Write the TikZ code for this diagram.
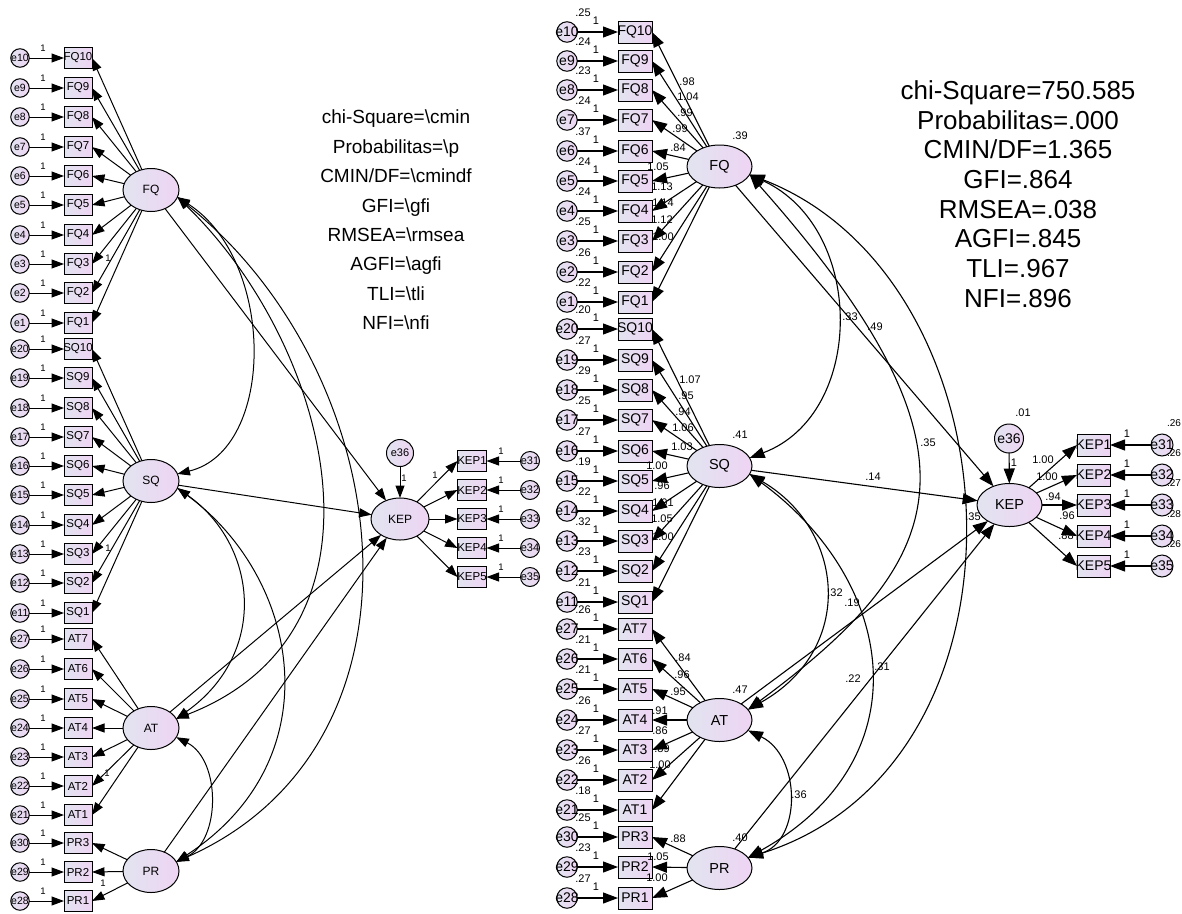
\documentclass[tikz,border=0pt]{standalone}
\usepackage{fontspec}
\setmainfont{Liberation Sans}
\usetikzlibrary{arrows.meta,shapes.geometric}
\definecolor{fillL}{RGB}{226,228,240}
\definecolor{fillR}{RGB}{238,212,243}
\newcommand\fsz[1]{\fontsize{#1}{#1}\selectfont}
\begin{document}
\begin{tikzpicture}[x=1pt,y=-1pt,
  every node/.style={inner sep=0pt,outer sep=0pt},
  zerotext/.style={execute at begin node={\hbox to 0pt\bgroup\hss},execute at end node={\hss\egroup}},
  shapefill/.style={zerotext,left color=fillL,right color=fillR,draw=black,line width=1pt},
  latL/.style={shapefill,ellipse,minimum width=56pt,minimum height=43pt,font=\fsz{12}},
  latR/.style={shapefill,ellipse,minimum width=65pt,minimum height=43pt,font=\fsz{14.5}},
  obsL/.style={shapefill,rectangle,minimum width=28pt,minimum height=21pt,font=\fsz{11.5}},
  obsR/.style={shapefill,rectangle,minimum width=34pt,minimum height=22pt,font=\fsz{14}},
  errL/.style={shapefill,circle,minimum size=18.5pt,font=\fsz{10.5}},
  errR/.style={shapefill,circle,minimum size=20.5pt,font=\fsz{14}},
  dL/.style={shapefill,circle,minimum size=27pt,font=\fsz{11}},
  dR/.style={shapefill,circle,minimum size=30pt,font=\fsz{14}},
  arrL/.style={line width=1pt,-{Triangle[length=12.5pt,width=9pt]}},
  covL/.style={line width=1pt,{Triangle[length=12.5pt,width=9pt]}-{Triangle[length=12.5pt,width=9pt]}},
  arrR/.style={line width=1.1pt,-{Triangle[length=15pt,width=11pt]}},
  covR/.style={line width=1.1pt,{Triangle[length=15pt,width=11pt]}-{Triangle[length=15pt,width=11pt]}},
  oneL/.style={font=\fsz{9.5}},
  numR/.style={font=\fsz{11}},
  fitL/.style={font=\fsz{19},anchor=base},
  fitR/.style={font=\fsz{26},anchor=base}]

\fill[white] (0,0) rectangle (1182,913);
\path[use as bounding box] (0,0) rectangle (1182,913);

% ---------------- model specification (left) ----------------
\node[latL] (lFQ) at (151,190) {FQ};
\node[latL] (lSQ) at (151,481) {SQ};
\node[latL] (lAT) at (151,728) {AT};
\node[latL] (lPR) at (151,871) {PR};
\node[latL,minimum width=58pt,minimum height=42pt] (lKEP) at (400,519) {KEP};
\node[dL] (le36) at (400,453) {e36};

\foreach \n/\y/\e in {FQ10/58/e10,FQ9/88/e9,FQ8/117/e8,FQ7/147/e7,FQ6/176/e6,FQ5/205/e5,FQ4/235/e4,FQ3/264/e3,FQ2/293/e2,FQ1/323/e1,
  SQ10/349/e20,SQ9/378/e19,SQ8/408/e18,SQ7/437/e17,SQ6/466/e16,SQ5/495/e15,SQ4/525/e14,SQ3/554/e13,SQ2/583/e12,SQ1/613/e11,
  AT7/639/e27,AT6/669/e26,AT5/699/e25,AT4/728/e24,AT3/757/e23,AT2/786/e22,AT1/815/e21,
  PR3/843/e30,PR2/872/e29,PR1/901/e28}{
  \node[obsL] (l\n) at (78,\y) {\n};
  \node[errL] (l\e) at (20,\y) {\e};
  \draw[arrL] (l\e) -- (l\n);
  \node[oneL] (lw\e) at (43,{\y-10}) {1};
}
\foreach \n in {FQ10,FQ9,FQ8,FQ7,FQ6,FQ5,FQ4,FQ3,FQ2,FQ1} \draw[arrL] (lFQ) -- (l\n.east);
\foreach \n in {SQ10,SQ9,SQ8,SQ7,SQ6,SQ5,SQ4,SQ3,SQ2,SQ1} \draw[arrL] (lSQ) -- (l\n.east);
\foreach \n in {AT7,AT6,AT5,AT4,AT3,AT2,AT1} \draw[arrL] (lAT) -- (l\n.east);
\foreach \n in {PR3,PR2,PR1} \draw[arrL] (lPR) -- (l\n.east);
\node[oneL] (lfFQ) at (108,258) {1};
\node[oneL] (lfSQ) at (108,548) {1};
\node[oneL] (lfAT) at (107,773) {1};
\node[oneL] (lfPR) at (103,883) {1};

\foreach \n/\y/\e in {KEP1/461/e31,KEP2/490/e32,KEP3/519/e33,KEP4/548/e34,KEP5/577/e35}{
  \node[obsL,minimum width=29pt] (l\n) at (472,\y) {\n};
  \node[errL,minimum size=19pt,font=\fsz{11}] (l\e) at (530,\y) {\e};
  \draw[arrL] (l\e) -- (l\n);
  \draw[arrL] (lKEP) -- (l\n.west);
  \node[oneL] (lw\e) at (501,{\y-10}) {1};
}
\node[oneL] (lfKEP) at (435,475) {1};
\draw[arrL] (le36) -- (lKEP);
\node[oneL] (lw36) at (404,478) {1};

\draw[arrL] (lFQ) -- (lKEP);
\draw[arrL] (lSQ) -- (lKEP);
\draw[arrL] (lAT) -- (lKEP);
\draw[arrL] (lPR) -- (lKEP);

\draw[covL] (lFQ.-15) .. controls (276,260) and (276,450) .. (lSQ.15);
\draw[covL] (lFQ.-15) .. controls (330,345) and (405,630) .. (lAT.20);
\draw[covL] (lFQ.-15) .. controls (400,375) and (442,744) .. (lPR.20);
\draw[covL] (lSQ.-15) .. controls (258,545) and (269,653) .. (lAT.20);
\draw[covL] (lSQ.-15) .. controls (300,578) and (334,759) .. (lPR.20);
\draw[covL] (lAT.-20) .. controls (221,760) and (221,840) .. (lPR.20);

\node[fitL] (lt1) at (396,123.8) {chi-Square=\textbackslash cmin};
\node[fitL] (lt2) at (396,153.2) {Probabilitas=\textbackslash p};
\node[fitL] (lt3) at (396,182.6) {CMIN/DF=\textbackslash cmindf};
\node[fitL] (lt4) at (396,212.0) {GFI=\textbackslash gfi};
\node[fitL] (lt5) at (396,241.4) {RMSEA=\textbackslash rmsea};
\node[fitL] (lt6) at (396,270.8) {AGFI=\textbackslash agfi};
\node[fitL] (lt7) at (396,300.2) {TLI=\textbackslash tli};
\node[fitL] (lt8) at (396,329.6) {NFI=\textbackslash nfi};

% ---------------- estimates (right) ----------------
\node[latR] (rFQ) at (719.5,166.5) {FQ};
\node[latR] (rSQ) at (719.5,466) {SQ};
\node[latR] (rAT) at (719.5,720) {AT};
\node[latR] (rPR) at (719.5,868) {PR};
\node[latR] (rKEP) at (1009.5,505) {KEP};
\node[dR,minimum size=29pt] (re36) at (1009,438.5) {e36};

\foreach \n/\y/\e/\v in {FQ10/32/e10/.25,FQ9/61/e9/.24,FQ8/90/e8/.23,FQ7/120/e7/.24,FQ6/151/e6/.37,FQ5/181/e5/.24,FQ4/211/e4/.24,FQ3/241/e3/.25,FQ2/272/e2/.26,FQ1/302/e1/.22,
  SQ10/329/e20/.20,SQ9/360/e19/.27,SQ8/390/e18/.29,SQ7/420/e17/.25,SQ6/451/e16/.27,SQ5/481/e15/.19,SQ4/511/e14/.22,SQ3/541/e13/.32,SQ2/571/e12/.23,SQ1/602/e11/.21,
  AT7/629/e27/.26,AT6/659/e26/.21,AT5/689/e25/.21,AT4/720/e24/.26,AT3/750/e23/.27,AT2/780/e22/.26,AT1/810/e21/.18,
  PR3/837/e30/.25,PR2/867/e29/.23,PR1/898/e28/.27}{
  \node[obsR] (r\n) at (635,\y) {\n};
  \node[errR] (r\e) at (567,\y) {\e};
  \draw[arrR] (r\e) -- (r\n);
  \node[numR] (rw\e) at (596,{\y-11}) {1};
  \node[numR] (rv\e) at (583,{\y-19}) {\v};
}
\foreach \n in {FQ10,FQ9,FQ8,FQ7,FQ6,FQ5,FQ4,FQ3,FQ2,FQ1} \draw[arrR] (rFQ) -- (r\n.east);
\foreach \n in {SQ10,SQ9,SQ8,SQ7,SQ6,SQ5,SQ4,SQ3,SQ2,SQ1} \draw[arrR] (rSQ) -- (r\n.east);
\foreach \n in {AT7,AT6,AT5,AT4,AT3,AT2,AT1} \draw[arrR] (rAT) -- (r\n.east);
\foreach \n in {PR3,PR2,PR1} \draw[arrR] (rPR) -- (r\n.east);

\foreach \x/\y/\t in {687/82/.98,688/97/1.04,685/113/.99,680/129/.99,678/148/.84,658/167/1.05,662/187/1.13,663/203/1.14,662/220/1.12,663/237/1.00,
  690/380/1.07,686/396/.95,683/412/.94,683/428/1.06,682/447/1.03,657/466/1.00,662/486/.96,663/503/1.01,662/519/1.05,663/537/1.00,
  683/658/.84,682/675/.96,678/692/.95,660/711/.91,660/731/.86,662/749/.89,660/765/1.00,
  678/839/.88,658/857/1.05,657/878/1.00,
  1043/460/1.00,1047/477/1.00,1053/497/.94,1067/516/.96,1066/536/.88}{
  \node[numR] (rl-\x-\y) at (\x,\y) {\t};
}

\foreach \n/\y/\e/\v in {KEP1/445/e31/.26,KEP2/475/e32/.26,KEP3/505/e33/.27,KEP4/536/e34/.28,KEP5/566/e35/.26}{
  \node[obsR,minimum width=33pt] (r\n) at (1093.5,\y) {\n};
  \node[errR,minimum size=22pt] (r\e) at (1162,\y) {\e};
  \draw[arrR] (r\e) -- (r\n);
  \draw[arrR] (rKEP) -- (r\n.west);
  \node[numR] (rw\e) at (1127,{\y-11}) {1};
  \node[numR,font=\fsz{10}] (rv\e) at (1174,{\y-22}) {\v};
}
\draw[arrR] (re36) -- (rKEP);
\node[numR] (rw36) at (1014,463) {1};
\node[numR] (rv36) at (1023,413) {.01};

\draw[arrR] (rFQ) -- (rKEP);
\draw[arrR] (rSQ) -- (rKEP);
\draw[arrR] (rAT) -- (rKEP);
\draw[arrR] (rPR) -- (rKEP);

\draw[covR] (rFQ.-15) .. controls (866,228) and (866,414) .. (rSQ.15);
\draw[covR] (rFQ.-15) .. controls (996,452) and (950,560) .. (rAT.20);
\draw[covR] (rFQ.-15) .. controls (1022,280) and (1047,763) .. (rPR.20);
\draw[covR] (rSQ.-15) .. controls (845,530) and (856,649) .. (rAT.20);
\draw[covR] (rSQ.-15) .. controls (898,583) and (923,760) .. (rPR.20);
\draw[covR] (rAT.-20) .. controls (801,756) and (802,840) .. (rPR.20);

\node[numR] (rvFQ) at (740,136) {.39};
\node[numR] (rvSQ) at (740,435) {.41};
\node[numR] (rvAT) at (740,690) {.47};
\node[numR] (rvPR) at (740,838) {.40};

\node[numR] (rc1) at (850,317) {.33};
\node[numR] (rc2) at (875,327) {.49};
\node[numR] (rc3) at (928,443) {.35};
\node[numR] (rc4) at (873,477) {.14};
\node[numR] (rc5) at (835,593) {.32};
\node[numR] (rc6) at (852,603) {.19};
\node[numR] (rc7) at (853,679) {.22};
\node[numR] (rc8) at (882,667) {.31};
\node[numR] (rc9) at (799,795) {.36};
\node[numR] (rc10) at (973,517) {.35};

\node[fitR] (rt1) at (1018,99.3) {chi-Square=750.585};
\node[fitR] (rt2) at (1018,129.0) {Probabilitas=.000};
\node[fitR] (rt3) at (1018,158.7) {CMIN/DF=1.365};
\node[fitR] (rt4) at (1018,188.4) {GFI=.864};
\node[fitR] (rt5) at (1018,218.1) {RMSEA=.038};
\node[fitR] (rt6) at (1018,247.8) {AGFI=.845};
\node[fitR] (rt7) at (1018,277.5) {TLI=.967};
\node[fitR] (rt8) at (1018,307.2) {NFI=.896};
\end{tikzpicture}
\end{document}
